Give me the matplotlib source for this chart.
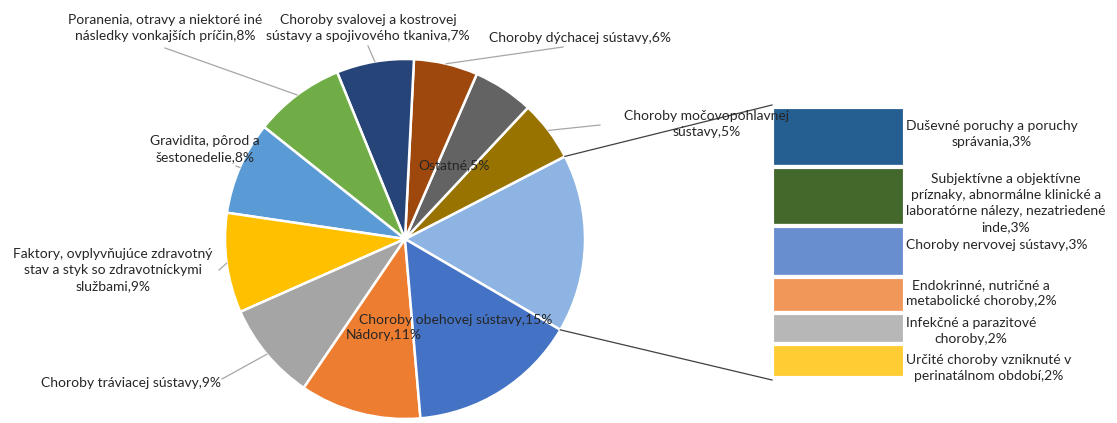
import numpy as np
import matplotlib.pyplot as plt

# === Dati ===
# fette principali (in senso antiorario, dopo la fetta "altre")
pie_labels = ['Choroby močovopohlavnej\nsústavy,5%',
              'Ostatné,5%',
              'Choroby dýchacej sústavy,6%',
              'Choroby svalovej a kostrovej\nsústavy a spojivového tkaniva,7%',
              'Poranenia, otravy a niektoré iné\nnásledky vonkajších príčin,8%',
              'Gravidita, pôrod a\nšestonedelie,8%',
              'Faktory, ovplyvňujúce zdravotný\nstav a styk so zdravotníckymi\nslužbami,9%',
              'Choroby tráviacej sústavy,9%',
              'Nádory,11%',
              'Choroby obehovej sústavy,15%']
pie_values = [5.4, 5.4, 5.7, 6.9, 8.1, 8.3, 8.9, 8.8, 10.8, 15.1]
pie_colors = ['#997300', '#636363', '#9E480E', '#264478', '#70AD47',
              '#5B9BD5', '#FFC000', '#A5A5A5', '#ED7D31', '#4472C4']

# barra "altre"
bar_labels = ['Duševné poruchy a poruchy\nsprávania,3%',
              'Subjektívne a objektívne\npríznaky, abnormálne klinické a\nlaboratórne nálezy, nezatriedené\ninde,3%',
              'Choroby nervovej sústavy,3%',
              'Endokrinné, nutričné a\nmetabolické choroby,2%',
              'Infekčné a parazitové\nchoroby,2%',
              'Určité choroby vzniknuté v\nperinatálnom období,2%']
bar_values = [3.5, 3.5, 3.0, 2.1, 1.8, 2.0]
bar_colors = ['#255E91', '#43682B', '#698ED0', '#F1975A', '#B7B7B7', '#FFCD33']
other_color = '#8DB4E2'

# === Layout (pixel) ===
W, H = 1117, 423
cx, cy, R = 405, H - 239, 180
bar_x0, bar_x1 = 772, 905
bar_top, bar_bot = H - 107, H - 378

# posizioni delle etichette (pixel, y dall'alto) e tipo: 'out' con linea, 'in' senza
label_pos = [(707, 124, 'out', (600, 125)),
             (454, 165, 'in', None),
             (580, 38, 'out', (563, 47)),
             (368, 28, 'out', (368, 46)),
             (165, 28, 'out', (165, 48)),
             (205, 149, 'out', (236, 166)),
             (113, 270, 'out', (219, 270)),
             (131, 383, 'out', (222, 379)),
             (384, 335, 'in', None),
             (456, 320, 'in', None)]
bar_label_y = [134, 203, 245, 293, 331, 368]

plt.rcParams['font.family'] = ['Lato', 'DejaVu Sans']
txt = '#262626'
fs = 10

fig = plt.figure(figsize=(W / 100, H / 100), dpi=100)
ax = fig.add_axes([0, 0, 1, 1])

other = sum(bar_values)
values = [other] + pie_values
total = sum(values)
start = -0.5 * other / total * 360 - 1.5

wedges, _ = ax.pie(values, colors=[other_color] + pie_colors, startangle=start,
                   counterclock=True, radius=R, center=(cx, cy), frame=True,
                   wedgeprops=dict(edgecolor='white', linewidth=1.8))
ax.set_xlim(0, W)
ax.set_ylim(0, H)
ax.set_aspect('equal')
ax.axis('off')

# etichette della torta
for w, lab, (lx, ly, kind, lp) in zip(wedges[1:], pie_labels, label_pos):
    ax.text(lx, H - ly, lab, ha='center', va='center', fontsize=fs,
            color=txt, linespacing=1.4)
    if kind == 'out':
        mid = np.deg2rad((w.theta1 + w.theta2) / 2)
        ex, ey = cx + R * np.cos(mid), cy + R * np.sin(mid)
        ax.plot([lp[0], ex], [H - lp[1], ey], color='#A6A6A6', lw=0.9)

# barra impilata
scale = (bar_top - bar_bot) / other
heights = [v * scale for v in bar_values]
bottoms = bar_top - np.cumsum(heights)
ax.bar([(bar_x0 + bar_x1) / 2] * len(heights), heights, bottom=bottoms,
       width=bar_x1 - bar_x0, color=bar_colors, edgecolor='white', linewidth=3)
for lab, ly in zip(bar_labels, bar_label_y):
    ax.text(bar_x1 + 1, H - ly, lab, ha='left', va='center', fontsize=fs,
            color=txt, linespacing=1.4, multialignment='center')

# linee di collegamento
w0 = wedges[0]
for ang, by in [(w0.theta2, bar_top + 2), (w0.theta1, bar_bot - 2)]:
    a = np.deg2rad(ang)
    ax.plot([cx + R * np.cos(a), bar_x0], [cy + R * np.sin(a), by],
            color='#404040', lw=0.9)

fig.savefig('out.png', dpi=100)
